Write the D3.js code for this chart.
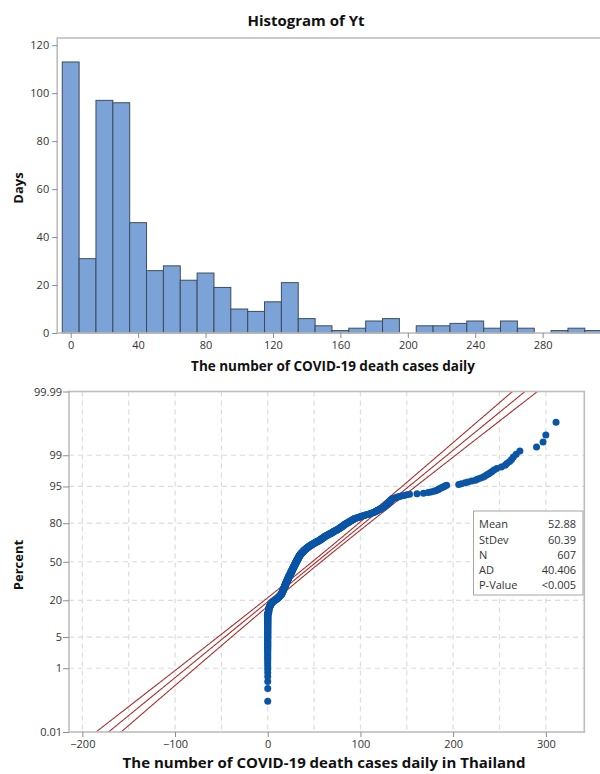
<!DOCTYPE html>
<html>
<head>
<meta charset="utf-8">
<script src="https://cdn.jsdelivr.net/npm/d3@7"></script>
<style>
  body { margin: 0; background: #fff; }
  svg { display: block; }
  text { font-family: "Open Sans", "Noto Sans", "DejaVu Sans", sans-serif; }
</style>
</head>
<body>
<svg id="chart" width="600" height="774"></svg>
<script>
// ---- Histogram: days per 10-death bin (bins centred on multiples of 10)
const binMids   = [0, 10, 20, 30, 40, 50, 60, 70, 80, 90, 100, 110, 120, 130, 140, 150,
                   160, 170, 180, 190, 200, 210, 220, 230, 240, 250, 260, 270, 280, 290, 300, 310];
const binCounts = [113, 31, 97, 96, 46, 26, 28, 22, 25, 19, 10, 9, 13, 21, 6, 3,
                   1, 2, 5, 6, 0, 3, 3, 4, 5, 2, 5, 2, 0, 1, 2, 1];
const histXTicks = [0, 40, 80, 120, 160, 200, 240, 280];
const histYTicks = [0, 20, 40, 60, 80, 100, 120];

// ---- Daily death counts, sorted, as [value, number of days]
const dailyDeaths = [
  [0, 80], [1, 14], [2, 8], [3, 6], [4, 5],
  [5, 3], [6, 3], [7, 2], [8, 3], [9, 2], [10, 3], [11, 3], [12, 4], [13, 4], [14, 4],
  [15, 8], [16, 9], [17, 10], [18, 10], [19, 11], [20, 10], [21, 10], [22, 10], [23, 10], [24, 9],
  [25, 10], [26, 10], [27, 10], [28, 10], [29, 10], [30, 10], [31, 9], [32, 9], [33, 9], [34, 9],
  [35, 6], [36, 6], [37, 5], [38, 5], [39, 5], [40, 4], [41, 4], [42, 4], [43, 4], [44, 3],
  [45, 3], [46, 3], [47, 3], [48, 3], [49, 2], [50, 3], [51, 2], [52, 3], [53, 2], [54, 2],
  [55, 3], [56, 3], [57, 3], [58, 3], [59, 3], [60, 3], [61, 3], [62, 3], [63, 2], [64, 2],
  [65, 2], [66, 3], [67, 2], [68, 2], [69, 2], [70, 3], [71, 2], [72, 2], [73, 2], [74, 2],
  [75, 3], [76, 2], [77, 3], [78, 2], [79, 3], [80, 2], [81, 3], [82, 2], [83, 3], [84, 2],
  [85, 2], [86, 2], [87, 2], [88, 2], [89, 2], [90, 2], [91, 2], [92, 2], [93, 2], [94, 1],
  [95, 1], [96, 1], [97, 1], [98, 1], [99, 1], [100, 1], [101, 1], [102, 1], [103, 1], [104, 1],
  [105, 1], [106, 1], [108, 1], [109, 1], [110, 1], [111, 1], [112, 1], [113, 1], [114, 1],
  [115, 1], [116, 2], [117, 1], [118, 2], [119, 1], [120, 1], [121, 2], [122, 1], [123, 1], [124, 1],
  [125, 2], [126, 2], [127, 2], [128, 2], [129, 2], [130, 2], [131, 3], [132, 2], [133, 2], [134, 2],
  [135, 1], [137, 1], [139, 1], [140, 1], [142, 1], [144, 1],
  [147, 1], [150, 1], [153, 1], [161, 1], [168, 1], [173, 1],
  [176, 1], [179, 1], [181, 1], [183, 1], [184, 1],
  [185, 1], [187, 1], [188, 1], [190, 1], [191, 1], [193, 1],
  [206, 1], [209, 1], [213, 1], [216, 1], [220, 1], [224, 1],
  [226, 1], [229, 1], [232, 1], [234, 1], [236, 1], [238, 1], [240, 1], [242, 1], [244, 1],
  [247, 1], [252, 1], [256, 1], [258, 1], [261, 1], [263, 1], [265, 1], [268, 1], [272, 1],
  [290, 1], [297, 1], [300, 1], [311, 1]
];

// ---- Normal fit summary
const fitMean = 52.88, fitStDev = 60.39, fitN = 607;
const statRows = [["Mean", "52.88"], ["StDev", "60.39"], ["N", "607"], ["AD", "40.406"], ["P-Value", "<0.005"]];
const probPercentTicks = [0.01, 1, 5, 20, 50, 80, 95, 99, 99.99];
const probPercentLabels = ["0.01", "1", "5", "20", "50", "80", "95", "99", "99.99"];
const probGridPercents = [1, 5, 20, 50, 80, 95, 99];
const probXTicks = [-200, -100, 0, 100, 200, 300];
const probXGrid = [-200, -150, -100, -50, 0, 50, 100, 150, 200, 250, 300];

// Inverse standard normal CDF (Acklam's rational approximation)
function qnorm(p) {
  const a = [-3.969683028665376e+01, 2.209460984245205e+02, -2.759285104469687e+02,
             1.383577518672690e+02, -3.066479806614716e+01, 2.506628277459239e+00];
  const b = [-5.447609879822406e+01, 1.615858368580409e+02, -1.556989798598866e+02,
             6.680131188771972e+01, -1.328068155288572e+01];
  const c = [-7.784894002430293e-03, -3.223964580411365e-01, -2.400758277161838e+00,
             -2.549732539343734e+00, 4.374664141464968e+00, 2.938163982698783e+00];
  const d = [7.784695709041462e-03, 3.224671290700398e-01, 2.445134137142996e+00,
             3.754408661907416e+00];
  const pl = 0.02425, ph = 1 - pl;
  let q, r;
  if (p < pl) {
    q = Math.sqrt(-2 * Math.log(p));
    return (((((c[0]*q+c[1])*q+c[2])*q+c[3])*q+c[4])*q+c[5]) / ((((d[0]*q+d[1])*q+d[2])*q+d[3])*q+1);
  }
  if (p <= ph) {
    q = p - 0.5; r = q * q;
    return (((((a[0]*r+a[1])*r+a[2])*r+a[3])*r+a[4])*r+a[5])*q / (((((b[0]*r+b[1])*r+b[2])*r+b[3])*r+b[4])*r+1);
  }
  q = Math.sqrt(-2 * Math.log(1 - p));
  return -(((((c[0]*q+c[1])*q+c[2])*q+c[3])*q+c[4])*q+c[5]) / ((((d[0]*q+d[1])*q+d[2])*q+d[3])*q+1);
}

const svg = d3.select("#chart");
const frameColor = "#bdbdbd";
const tickColor = "#8c8c8c";
const labelColor = "#333";

function styleAxis(g) {
  g.select(".domain").remove();
  g.selectAll(".tick line").attr("stroke", tickColor);
  g.selectAll(".tick text").attr("fill", labelColor).attr("font-size", 11)
    .attr("font-family", '"Open Sans", "Noto Sans", sans-serif');
}

// ================= Histogram =================
const hx = d3.scaleLinear().domain([-8, 320]).range([57.2, 610.1]);
const hy = d3.scaleLinear().domain([0, 123]).range([333, 38]);

svg.append("text").attr("x", 306).attr("y", 26).attr("text-anchor", "middle")
  .attr("font-size", 15).attr("font-weight", "bold").attr("fill", "#111").text("Histogram of Yt");

const hist = svg.append("g");
hist.selectAll("rect.bar")
  .data(binMids.map((m, i) => ({ mid: m, count: binCounts[i] })).filter(d => d.count > 0))
  .join("rect").attr("class", "bar")
  .attr("x", d => hx(d.mid - 5)).attr("width", d => hx(d.mid + 5) - hx(d.mid - 5))
  .attr("y", d => hy(d.count)).attr("height", d => hy(0) - hy(d.count))
  .attr("fill", "#7ba3d8").attr("stroke", "#3d4b5c").attr("stroke-width", 1);

hist.append("rect").attr("x", hx(-8)).attr("y", hy(123))
  .attr("width", hx(320) - hx(-8)).attr("height", hy(0) - hy(123))
  .attr("fill", "none").attr("stroke", frameColor).attr("stroke-width", 1.6);

hist.append("g").attr("transform", `translate(${hx(-8)},0)`)
  .call(d3.axisLeft(hy).tickValues(histYTicks).tickSize(5).tickPadding(3)).call(styleAxis);
hist.append("g").attr("transform", `translate(0,${hy(0)})`)
  .call(d3.axisBottom(hx).tickValues(histXTicks).tickSize(5).tickPadding(3)).call(styleAxis);

svg.append("text").attr("transform", "translate(23,188) rotate(-90)").attr("text-anchor", "middle")
  .attr("font-size", 13).attr("font-weight", "bold").attr("fill", "#111").text("Days");
svg.append("text").attr("x", 333).attr("y", 371).attr("text-anchor", "middle")
  .attr("font-size", 13.5).attr("font-weight", "bold").attr("fill", "#111")
  .text("The number of COVID-19 death cases daily");

// ================= Normal probability plot =================
const zLo = qnorm(0.0001), zHi = qnorm(0.9999);
const px = d3.scaleLinear().domain([-214.4, 341.5]).range([69, 584.3]);
const py = d3.scaleLinear().domain([zLo, zHi]).range([732, 391.5]);

const prob = svg.append("g");
prob.append("defs").append("clipPath").attr("id", "probClip")
  .append("rect").attr("x", px.range()[0]).attr("y", py.range()[1])
  .attr("width", px.range()[1] - px.range()[0]).attr("height", py.range()[0] - py.range()[1]);

// dashed grid
prob.append("g").selectAll("line").data(probXGrid).join("line")
  .attr("x1", d => px(d)).attr("x2", d => px(d)).attr("y1", py.range()[1]).attr("y2", py.range()[0])
  .attr("stroke", "#dcdcdc").attr("stroke-width", 1.2).attr("stroke-dasharray", "5,4");
prob.append("g").selectAll("line").data(probGridPercents).join("line")
  .attr("y1", d => py(qnorm(d / 100))).attr("y2", d => py(qnorm(d / 100)))
  .attr("x1", px.range()[0]).attr("x2", px.range()[1])
  .attr("stroke", "#dcdcdc").attr("stroke-width", 1.2).attr("stroke-dasharray", "5,4");

// fitted normal line with 95% confidence bands
const zs = d3.range(zLo - 0.1, zHi + 0.1, 0.02);
const fitLine = d3.line().x(d => px(d[0])).y(d => py(d[1]));
const bandHalf = z => 1.96 * fitStDev * Math.sqrt(1 / fitN + z * z / (2 * fitN));
const fitG = prob.append("g").attr("clip-path", "url(#probClip)");
[
  zs.map(z => [fitMean + fitStDev * z, z]),
  zs.map(z => [fitMean + fitStDev * z - bandHalf(z), z]),
  zs.map(z => [fitMean + fitStDev * z + bandHalf(z), z])
].forEach(pts => {
  fitG.append("path").attr("d", fitLine(pts)).attr("fill", "none")
    .attr("stroke", "#a8302e").attr("stroke-width", 1.1);
});

// data points at median-rank plotting positions
const sortedDeaths = [];
dailyDeaths.forEach(([v, c]) => { for (let k = 0; k < c; k++) sortedDeaths.push(v); });
const nObs = sortedDeaths.length;
prob.append("g").selectAll("circle")
  .data(sortedDeaths.map((v, i) => ({ v, z: qnorm((i + 1 - 0.3) / (nObs + 0.4)) })))
  .join("circle")
  .attr("cx", d => px(d.v)).attr("cy", d => py(d.z)).attr("r", 3.5)
  .attr("fill", "#0a55a6");

// frame
prob.append("rect").attr("x", px.range()[0]).attr("y", py.range()[1])
  .attr("width", px.range()[1] - px.range()[0]).attr("height", py.range()[0] - py.range()[1])
  .attr("fill", "none").attr("stroke", frameColor).attr("stroke-width", 1.6);

// axes
const pyAxis = d3.axisLeft(d3.scaleLinear().domain(py.domain()).range(py.range()))
  .tickValues(probPercentTicks.map(p => qnorm(p / 100)))
  .tickFormat((d, i) => probPercentLabels[i]).tickSize(6).tickPadding(1);
prob.append("g").attr("transform", `translate(${px.range()[0]},0)`).call(pyAxis).call(styleAxis);
prob.append("g").attr("transform", `translate(0,${py.range()[0]})`)
  .call(d3.axisBottom(px).tickValues(probXTicks).tickSize(5).tickPadding(3)).call(styleAxis);

svg.append("text").attr("transform", "translate(23,565) rotate(-90)").attr("text-anchor", "middle")
  .attr("font-size", 13).attr("font-weight", "bold").attr("fill", "#111").text("Percent");
svg.append("text").attr("x", 324).attr("y", 768).attr("text-anchor", "middle")
  .attr("font-size", 15).attr("font-weight", "bold").attr("fill", "#111")
  .text("The number of COVID-19 death cases daily in Thailand");

// summary statistics box
const box = prob.append("g");
box.append("rect").attr("x", 473.5).attr("y", 511).attr("width", 109.5).attr("height", 84)
  .attr("fill", "#fff").attr("stroke", "#a6a6a6").attr("stroke-width", 1);
statRows.forEach(([k, v], i) => {
  const yy = 528.3 + i * 15.2;
  box.append("text").attr("x", 479).attr("y", yy).attr("font-size", 11).attr("fill", labelColor).text(k);
  box.append("text").attr("x", 576).attr("y", yy).attr("text-anchor", "end")
    .attr("font-size", 11).attr("fill", labelColor).text(v);
});
</script>
</body>
</html>
